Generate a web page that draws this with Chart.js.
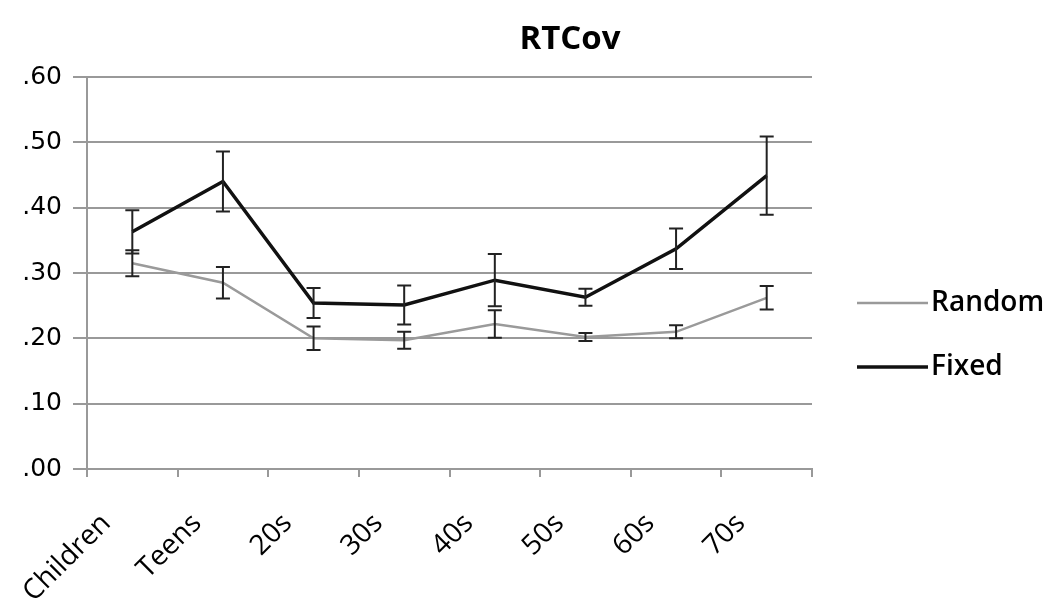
<!DOCTYPE html>
<html>
<head>
<meta charset="utf-8">
<script src="https://cdn.jsdelivr.net/npm/chart.js@4/dist/chart.umd.min.js"></script>
<style>html,body{margin:0;padding:0;background:#fff}</style>
</head>
<body>
<canvas id="grafico" width="1062" height="603"></canvas>
<script>
const categorias = ['Children', 'Teens', '20s', '30s', '40s', '50s', '60s', '70s'];
const random = [0.315, 0.285, 0.200, 0.197, 0.222, 0.202, 0.210, 0.262];
const randomErro = [0.020, 0.024, 0.018, 0.013, 0.021, 0.006, 0.010, 0.018];
const fixed = [0.363, 0.440, 0.254, 0.251, 0.289, 0.263, 0.337, 0.449];
const fixedErro = [0.033, 0.046, 0.023, 0.030, 0.040, 0.013, 0.031, 0.060];
const yTicks = ['.00', '.10', '.20', '.30', '.40', '.50', '.60'];
const titulo = 'RTCov';

const ctx = document.getElementById('grafico');

// barras de erro desenhadas pelas escalas do proprio grafico
const barrasErro = {
  id: 'barrasErro',
  afterDatasetsDraw(chart) {
    const { ctx, scales: { x, y } } = chart;
    ctx.save();
    ctx.strokeStyle = '#222';
    ctx.lineWidth = 2;
    chart.data.datasets.forEach(ds => {
      ds.data.forEach((v, i) => {
        const px = x.getPixelForValue(i);
        const cima = y.getPixelForValue(v + ds.erro[i]);
        const baixo = y.getPixelForValue(v - ds.erro[i]);
        ctx.beginPath();
        ctx.moveTo(px, cima); ctx.lineTo(px, baixo);
        ctx.moveTo(px - 7, cima); ctx.lineTo(px + 7, cima);
        ctx.moveTo(px - 7, baixo); ctx.lineTo(px + 7, baixo);
        ctx.stroke();
      });
    });
    ctx.restore();
  }
};

// titulo e legenda ao lado
const textos = {
  id: 'textos',
  afterDraw(chart) {
    const c = chart.ctx;
    c.save();
    c.fillStyle = '#000';
    c.textAlign = 'center';
    c.textBaseline = 'middle';
    c.font = 'bold 33px "Open Sans"';
    c.fillText(titulo, 570, 40);

    c.textAlign = 'left';
    c.font = '600 28px "Open Sans"';
    chart.data.datasets.forEach((ds, i) => {
      const yy = 303 + i * 64;
      c.strokeStyle = ds.borderColor;
      c.lineWidth = ds.borderWidth;
      c.beginPath();
      c.moveTo(857, yy);
      c.lineTo(928, yy);
      c.stroke();
      c.fillText(ds.label, 931, yy);
    });
    c.restore();
  }
};

new Chart(ctx, {
  type: 'line',
  data: {
    labels: categorias,
    datasets: [
      { label: 'Random', data: random, erro: randomErro, borderColor: '#9a9a9a', borderWidth: 2.5, pointRadius: 0, tension: 0 },
      { label: 'Fixed', data: fixed, erro: fixedErro, borderColor: '#111', borderWidth: 3.5, pointRadius: 0, tension: 0 }
    ]
  },
  options: {
    responsive: false,
    animation: false,
    layout: { padding: { top: 77, right: 250, left: 0, bottom: 0 } },
    scales: {
      x: {
        offset: true,
        grid: { offset: true, drawOnChartArea: false, tickLength: 8, color: '#999', lineWidth: 2 },
        border: { color: '#999', width: 2 },
        ticks: {
          minRotation: 45, maxRotation: 45, autoSkip: false,
          labelOffset: -26, padding: 30,
          color: '#000', font: { family: 'Open Sans', size: 28 }
        },
        afterFit(s) { s.height = 134; }
      },
      y: {
        min: 0, max: 0.6,
        grid: { color: '#999', lineWidth: 2, tickLength: 14 },
        border: { color: '#999', width: 2 },
        ticks: {
          stepSize: 0.1, padding: 11,
          callback: (v, i) => yTicks[i],
          color: '#000', font: { family: 'DejaVu Sans', size: 25 }
        },
        afterFit(s) { s.width = 87; }
      }
    },
    plugins: {
      legend: { display: false },
      title: { display: false },
      tooltip: { enabled: false }
    }
  },
  plugins: [barrasErro, textos]
});
</script>
</body>
</html>
